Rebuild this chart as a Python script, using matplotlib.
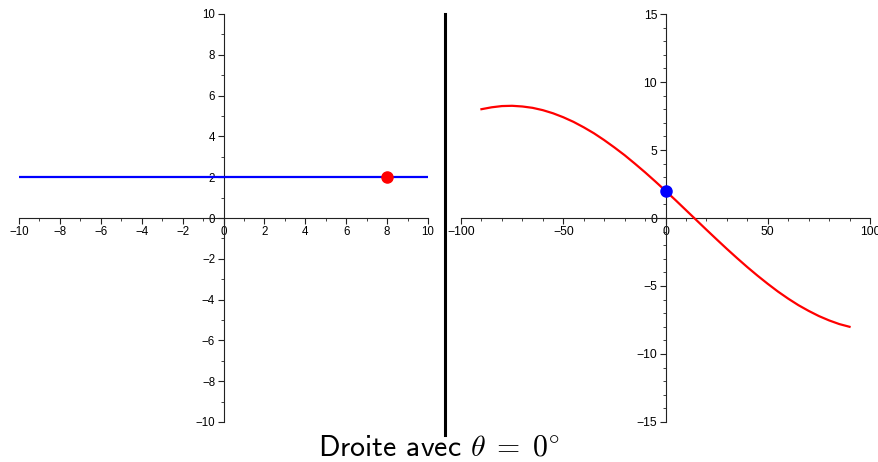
import numpy as np
import matplotlib
matplotlib.use("Agg")
import matplotlib.pyplot as plt
from matplotlib.lines import Line2D
from matplotlib.ticker import MultipleLocator

plt.rcParams['font.family'] = ['Liberation Sans', 'DejaVu Sans']
plt.rcParams['mathtext.fontset'] = 'cm'

# droite horizontale y = 2 et point (8, 2)
line_x = [-10, 10]
line_y = [2, 2]
pt_x = [8]
pt_y = [2]

# courbe dans l'espace (theta, rho)
theta = [-90, -85, -80, -75, -70, -65, -60, -55, -50, -45, -40, -35, -30, -25,
         -20, -15, -10, -5, 0, 5, 10, 15, 20, 25, 30, 35, 40, 45, 50, 55, 60,
         65, 70, 75, 80, 85, 90]
rho = [8.00, 8.14, 8.23, 8.25, 8.20, 8.10, 7.93, 7.70, 7.41, 7.07, 6.67, 6.23,
       5.73, 5.19, 4.62, 4.00, 3.36, 2.69, 2.00, 1.30, 0.58, -0.14, -0.86,
       -1.57, -2.27, -2.95, -3.61, -4.24, -4.84, -5.41, -5.93, -6.41, -6.83,
       -7.21, -7.53, -7.80, -8.00]
theta_pt = [0]
rho_pt = [2]

W, H = 879, 462
fig = plt.figure(figsize=(W / 100, H / 100), dpi=100)

def setup(ax, xlim, ylim, xmaj, xmin, ymaj, ymin, fs):
    ax.set_xlim(*xlim)
    ax.set_ylim(*ylim)
    for s in ['top', 'right']:
        ax.spines[s].set_visible(False)
    ax.spines['left'].set_position(('data', 0))
    ax.spines['bottom'].set_position(('data', 0))
    for s in ['left', 'bottom']:
        ax.spines[s].set_linewidth(0.8)
        ax.spines[s].set_color('#222222')
    ax.xaxis.set_major_locator(MultipleLocator(xmaj))
    ax.xaxis.set_minor_locator(MultipleLocator(xmin))
    ax.yaxis.set_major_locator(MultipleLocator(ymaj))
    ax.yaxis.set_minor_locator(MultipleLocator(ymin))
    ax.tick_params(which='major', direction='out', length=4, width=0.8,
                   labelsize=fs, pad=2, color='#222222')
    ax.tick_params(which='minor', direction='out', length=2, width=0.6,
                   color='#222222')
    ax.patch.set_visible(False)

ax1 = fig.add_axes([19 / W, 40 / H, 409 / W, 408 / H])
setup(ax1, (-10, 10), (-10, 10), 2, 1, 2, 1, 8.3)
ax1.plot(line_x, line_y, color='#0000ff', lw=1.6, zorder=3)
ax1.plot(pt_x, pt_y, 'o', color='#ff0000', ms=8, zorder=4, clip_on=False)

ax2 = fig.add_axes([461 / W, 40 / H, 409 / W, 408 / H])
setup(ax2, (-100, 100), (-15, 15), 50, 10, 5, 1, 8.8)
ax2.plot(theta, rho, color='#ff0000', lw=1.6, zorder=3)
ax2.plot(theta_pt, rho_pt, 'o', color='#0000ff', ms=8, zorder=4, clip_on=False)

# separation verticale
fig.add_artist(Line2D([445 / W, 445 / W], [1 - 14 / H, 1 - 435 / H],
                      color='black', lw=2.2))

fig.text(439 / W, 1 - 449 / H, r'Droite avec $\theta\;=\;0^{\circ}$',
         ha='center', va='center', fontsize=21.5, fontname='cmss10')

fig.savefig('out.png', dpi=100)
